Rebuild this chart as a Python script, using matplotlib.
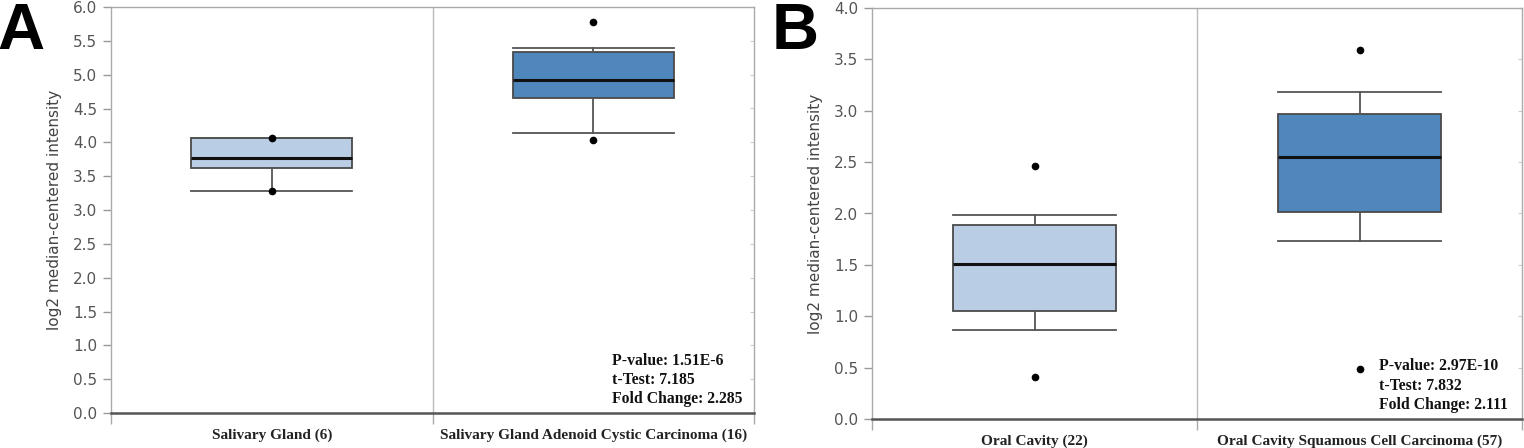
import matplotlib
matplotlib.use("Agg")
import matplotlib.pyplot as plt

# ---- data ----
a_labels = ["Salivary Gland (6)", "Salivary Gland Adenoid Cystic Carcinoma (16)"]
a_q1 = [3.62, 4.65]
a_med = [3.775, 4.92]
a_q3 = [4.065, 5.33]
a_whislo = [3.275, 4.14]
a_whishi = [4.065, 5.40]
a_min = [3.28, 4.035]
a_max = [4.06, 5.785]
a_stats = ["P-value: 1.51E-6", "t-Test: 7.185", "Fold Change: 2.285"]
a_yticks = [0.0, 0.5, 1.0, 1.5, 2.0, 2.5, 3.0, 3.5, 4.0, 4.5, 5.0, 5.5, 6.0]

b_labels = ["Oral Cavity (22)", "Oral Cavity Squamous Cell Carcinoma (57)"]
b_q1 = [1.049, 2.016]
b_med = [1.512, 2.554]
b_q3 = [1.886, 2.973]
b_whislo = [0.867, 1.736]
b_whishi = [1.983, 3.187]
b_min = [0.412, 0.484]
b_max = [2.467, 3.593]
b_stats = ["P-value: 2.97E-10", "t-Test: 7.832", "Fold Change: 2.111"]
b_yticks = [0.0, 0.5, 1.0, 1.5, 2.0, 2.5, 3.0, 3.5, 4.0]

box_colors = ["#b9cde5", "#4f86bc"]
ylabel = "log2 median-centered intensity"

fig = plt.figure(figsize=(15.24, 4.48), dpi=100)


def draw(rect, labels, q1, med, q3, wlo, whi, mn, mx, stats, yticks, letter, letter_x, stat_x):
    ax = fig.add_axes(rect)
    bstats = []
    for i in range(len(labels)):
        bstats.append(dict(med=med[i], q1=q1[i], q3=q3[i], whislo=wlo[i], whishi=whi[i],
                           fliers=[mn[i], mx[i]]))
    bp = ax.bxp(bstats, positions=[0, 1], widths=0.5, patch_artist=True,
                capwidths=0.5,
                boxprops=dict(edgecolor="#4a4a4a", linewidth=1.3),
                medianprops=dict(color="#111111", linewidth=2.2),
                whiskerprops=dict(color="#555555", linewidth=1.3),
                capprops=dict(color="#555555", linewidth=1.3),
                flierprops=dict(marker="o", markerfacecolor="black", markeredgecolor="black",
                                markersize=4.5, linestyle="none"))
    for patch, c in zip(bp["boxes"], box_colors):
        patch.set_facecolor(c)
    ax.set_xlim(-0.5, 1.5)
    ax.set_ylim(yticks[0], yticks[-1])
    ax.axvline(0.5, color="#bbbbbb", linewidth=1.0, zorder=0)
    ax.set_yticks(yticks)
    ax.set_yticklabels([f"{t:.1f}" for t in yticks], color="#555555", fontsize=11,
                       family="DejaVu Sans")
    ax.tick_params(axis="y", length=6, color="#999999", width=1, pad=4,
                   right=False, which="major", direction="out")
    ax2 = ax.secondary_yaxis("right")
    ax2.set_yticks(yticks)
    ax2.tick_params(axis="y", direction="in", length=3, color="#cccccc", labelright=False)
    ax2.spines["right"].set_visible(False)
    ax.set_xticks([-0.5, 0.5, 1.5])
    ax.set_xticklabels(["", "", ""])
    ax.tick_params(axis="x", which="major", length=8, color="#aaaaaa", width=1)
    ax.set_xticks([0, 1], minor=True)
    ax.set_xticklabels(labels, minor=True, family="Liberation Serif", fontweight="bold",
                       fontsize=11, color="#222222")
    ax.tick_params(axis="x", which="minor", length=0, pad=11)
    for s in ["left", "top", "right"]:
        ax.spines[s].set_color("#aaaaaa")
        ax.spines[s].set_linewidth(1.0)
    ax.spines["bottom"].set_color("#555555")
    ax.spines["bottom"].set_linewidth(1.8)
    ax.set_ylabel(ylabel, color="#444444", fontsize=11, labelpad=8)
    for k, s in enumerate(stats):
        ax.text(stat_x, 0.128 - k * 0.047, s, transform=ax.transAxes, family="Liberation Serif",
                fontweight="bold", fontsize=11.3, color="#111111", va="center", ha="left")
    fig.text(letter_x, 0.995, letter, fontsize=47, fontweight="bold", family="Liberation Sans",
             va="top", ha="left")
    return ax


draw([111 / 1524, 35 / 448, 643 / 1524, 406 / 448], a_labels, a_q1, a_med, a_q3, a_whislo,
     a_whishi, a_min, a_max, a_stats, a_yticks, "A", -0.002, (612 - 111) / 643)
draw([872 / 1524, 29 / 448, 650 / 1524, 411 / 448], b_labels, b_q1, b_med, b_q3, b_whislo,
     b_whishi, b_min, b_max, b_stats, b_yticks, "B", 772 / 1524, (1379 - 872) / 650)

fig.savefig("out.png", dpi=100)
